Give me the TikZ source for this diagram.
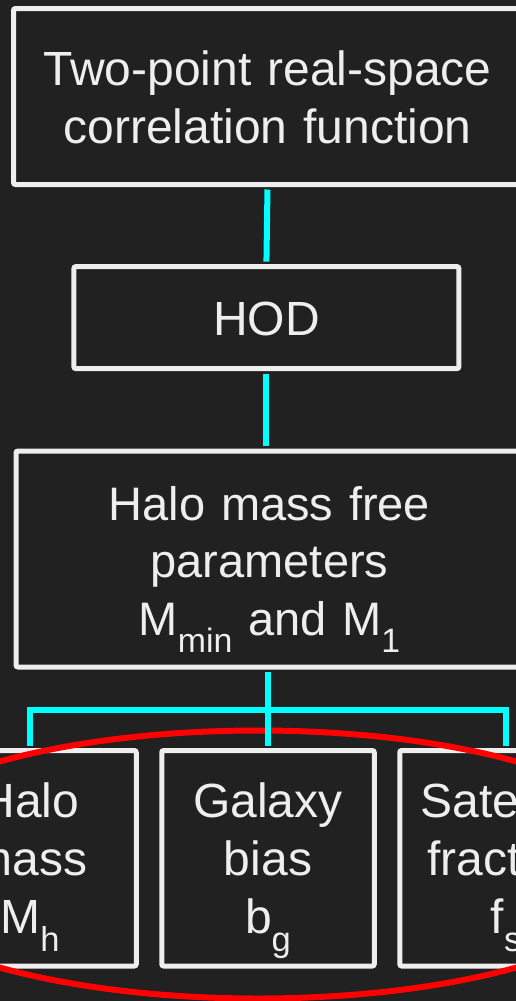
\documentclass[tikz,border=0pt]{standalone}
\usepackage{fontspec}
\setmainfont{Liberation Sans}
\definecolor{bgdark}{HTML}{212121}
\definecolor{boxline}{HTML}{EEEEEE}
\definecolor{linkcyan}{HTML}{00FFFF}
\definecolor{ringred}{HTML}{FF0000}
\makeatletter
\newcommand\lowsub[1]{\raisebox{-0.38em}{\fontsize{\fpeval{0.72*\f@size}}{0}\selectfont #1}}
\makeatother
\tikzset{
  stagebox/.style={draw=boxline, line width=5pt, fill=bgdark, rounded corners=2pt,
    text=boxline, inner sep=0pt, align=center, font=\fontsize{48}{58}\selectfont},
  link/.style={draw=linkcyan, line width=6pt, shorten <=2.5pt, shorten >=2.5pt},
  ring/.style={draw=ringred, line width=6pt}
}
\begin{document}
\begin{tikzpicture}[x=1pt,y=-1pt]
  \useasboundingbox (0,0) rectangle (516,1001);
  \fill[bgdark] (0,0) rectangle (516,1001);
  \clip (0,0) rectangle (516,1001);

  % main chain
  \node[stagebox, text width=508pt, minimum height=176pt, text height=30pt, text depth=53pt]
    (corr) at (267.5,96.5) {Two-point real-space\\correlation function};
  \node[stagebox, text width=385pt, minimum height=102pt, text height=35pt, text depth=0pt]
    (hod) at (266.4,317.6) {HOD};
  \node[stagebox, text width=507pt, minimum height=216pt, text height=30pt, text depth=108pt,
    font=\fontsize{47}{57.5}\selectfont]
    (halo) at (269.5,559) {Halo mass free\\parameters\\M\lowsub{min} and M\lowsub{1}};

  % derived quantities
  \node[stagebox, text width=212.5pt, minimum height=215.5pt, text height=30pt, text depth=112.5pt]
    (mh) at (30,858.25) {Halo\\mass\\M\lowsub{h}};
  \node[stagebox, text width=212.5pt, minimum height=215.5pt, text height=30pt, text depth=112.5pt]
    (bg) at (268,858.25) {Galaxy\\bias\\b\lowsub{g}};
  \node[stagebox, text width=212.5pt, minimum height=215.5pt, text height=30pt, text depth=112.5pt]
    (fs) at (506,858.25) {Satellite\\fraction\\f\lowsub{s}};

  % highlight around the derived quantities
  \draw[ring] (258,864.5) ellipse [x radius=404, y radius=134];

  % connectors
  \coordinate (bus) at (268,709.5);
  \draw[link] (corr.south) -- (hod.north);
  \draw[link] (hod.north |- hod.south) -- (hod.north |- halo.north);
  \draw[link] (bg.north |- halo.south) -- (bg.north);
  \draw[link, line join=miter] (mh.north) |- (bus) -| (fs.north);
\end{tikzpicture}
\end{document}
